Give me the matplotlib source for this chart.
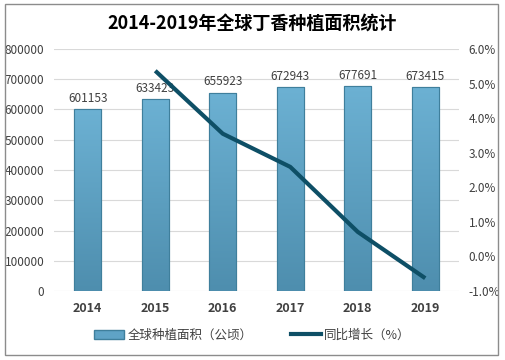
import numpy as np
import matplotlib
matplotlib.use("Agg")
import matplotlib.pyplot as plt
from matplotlib.patches import Rectangle
from matplotlib.lines import Line2D

plt.rcParams['font.family'] = ['Noto Sans CJK SC', 'DejaVu Sans']

years = ["2014", "2015", "2016", "2017", "2018", "2019"]
area = [601153, 633423, 655923, 672943, 677691, 673415]
growth_years = ["2015", "2016", "2017", "2018", "2019"]
growth = [5.37, 3.55, 2.59, 0.71, -0.63]

title = "2014-2019年全球丁香种植面积统计"
bar_label = "全球种植面积（公顷）"
line_label = "同比增长（%）"

text_c = "#404040"
line_c = "#0e4f66"

fig = plt.figure(figsize=(5.05, 3.6), dpi=100)
ax = fig.add_axes([54 / 505, 1 - 291 / 360, 405 / 505, 242 / 360])
ax2 = ax.twinx()

x = np.arange(len(years))
bars = ax.bar(x, area, width=0.4, color="#5fa3c6", edgecolor="#3f7f9c", linewidth=0.8, zorder=2)

# vertical gradient inside each bar
grad = np.linspace(0, 1, 256).reshape(-1, 1)
cmap = matplotlib.colors.LinearSegmentedColormap.from_list("g", ["#4e8eae", "#6cb1d3"])
for b in bars:
    bx, by = b.get_x(), b.get_y()
    im = ax.imshow(grad, extent=(bx, bx + b.get_width(), by, by + b.get_height()),
                   origin="lower", cmap=cmap, aspect="auto", zorder=2.1)
    im.set_clip_path(b)
    ax.add_patch(Rectangle((bx, by), b.get_width(), b.get_height(), fill=False,
                           edgecolor="#3f7f9c", linewidth=0.8, zorder=2.2))
    ax.text(bx + b.get_width() / 2, b.get_height() + 14000, f"{b.get_height():.0f}",
            ha="center", va="bottom", fontsize=8.5, color=text_c, zorder=3)

ax.set_xlim(-0.5, len(years) - 0.5)
ax.set_ylim(0, 800000)
ax.set_yticks(np.arange(0, 800001, 100000))
ax.set_yticklabels([f"{v}" for v in range(0, 800001, 100000)])
ax.set_xticks(x)
ax.set_xticklabels(years, fontweight="bold", fontsize=9, color=text_c)
ax.grid(axis="y", color="#d9d9d9", linewidth=0.8, zorder=0)
ax.set_axisbelow(True)
ax.tick_params(axis="y", length=0, labelsize=8.5, labelcolor=text_c, pad=7)
ax.tick_params(axis="x", length=0, pad=8)

gx = [years.index(y) for y in growth_years]
ax2.plot(gx, growth, color=line_c, linewidth=3, solid_capstyle="butt", zorder=4)
ax2.set_ylim(-1, 6)
ax2.set_yticks(np.arange(-1, 7, 1))
ax2.set_yticklabels([f"{v:.1f}%" for v in np.arange(-1, 7, 1)])
ax2.tick_params(axis="y", length=0, labelsize=8.5, labelcolor=text_c, pad=7)

for a in (ax, ax2):
    for s in a.spines.values():
        s.set_visible(False)

fig.text(0.5, 1 - 24 / 360, title, ha="center", va="center", fontsize=13,
         fontweight="semibold", color="black")

handles = [Rectangle((0, 0), 1, 1, facecolor="#5fa3c6", edgecolor="#3f7f9c"),
           Line2D([0], [0], color=line_c, linewidth=3)]
fig.legend(handles, [bar_label, line_label], loc="center", bbox_to_anchor=(0.5, 1 - 335 / 360),
           ncol=2, frameon=False, fontsize=9, handlelength=2.4, handleheight=0.7,
           columnspacing=3, handletextpad=0.3, labelcolor=text_c)

fig.patches.append(Rectangle((5 / 505, 5 / 360), 493 / 505, 351 / 360, transform=fig.transFigure,
                             fill=False, edgecolor="#8c8c8c", linewidth=1))

fig.savefig("out.png", dpi=100)
